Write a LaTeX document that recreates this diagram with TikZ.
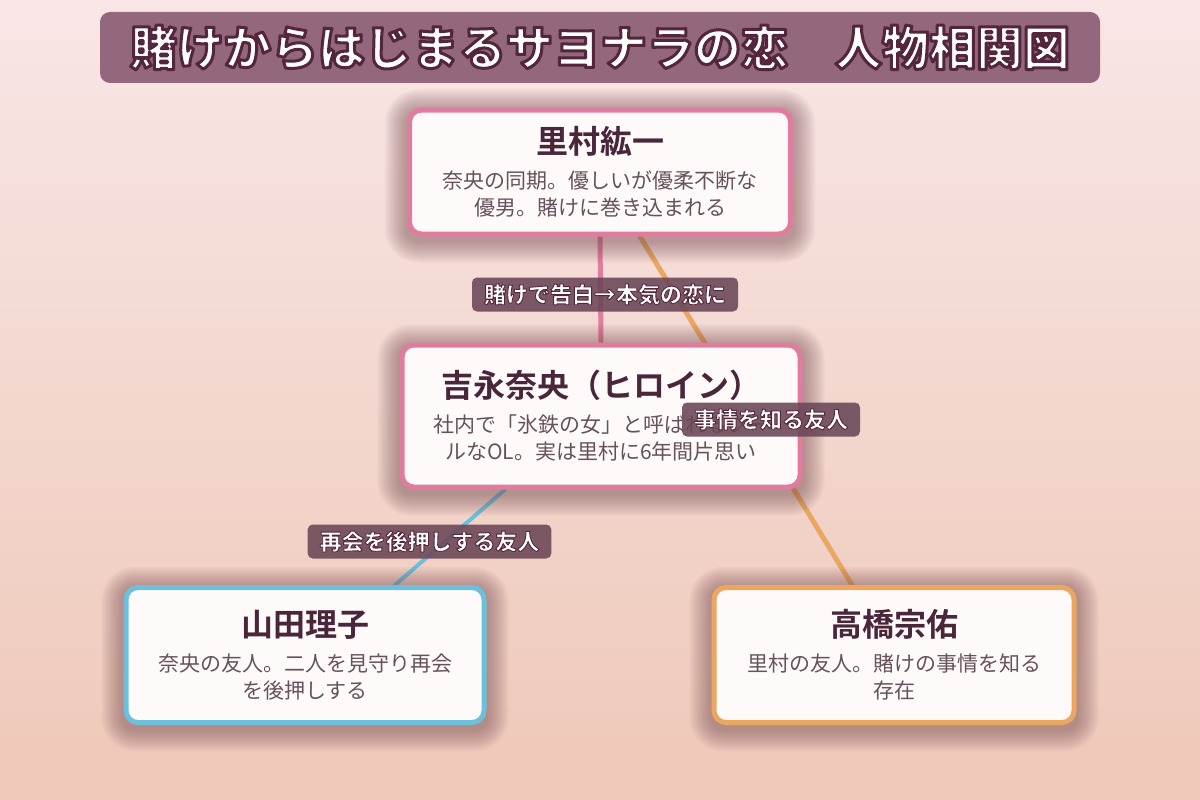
\documentclass[tikz,border=0pt]{standalone}
\usepackage{fontspec}
\setmainfont{Noto Sans CJK JP}[BoldFont={Noto Sans CJK JP Bold}]
\IfFontExistsTF{Noto Sans CJK JP Black}
  {\newfontfamily\heavyfont{Noto Sans CJK JP Black}}
  {\newfontfamily\heavyfont{Noto Sans CJK JP Bold}}

\definecolor{bgtop}{HTML}{F8E6E6}
\definecolor{bgbot}{HTML}{EEC8B8}
\definecolor{titlebg}{HTML}{93677C}
\definecolor{tagbg}{HTML}{6A4656}
\definecolor{boxfill}{HTML}{FFFAFA}
\definecolor{nametext}{HTML}{4A263A}
\definecolor{desctext}{HTML}{66525C}
\definecolor{glowcol}{HTML}{6E4448}
\definecolor{pinkline}{HTML}{E07C9E}
\definecolor{blueline}{HTML}{6CC0DC}
\definecolor{orangeline}{HTML}{EBA762}

\pgfdeclarelayer{bg}
\pgfdeclarelayer{edges}
\pgfdeclarelayer{glow}
\pgfsetlayers{bg,edges,glow,main}

\newcommand{\pname}[1]{{\fontsize{32}{36}\selectfont\bfseries\color{nametext}#1}}
% white letters with a dark rim (fill + stroke)
\newcommand{\rimtext}[2]{\special{pdf:literal direct 0.33 0.15 0.24 RG #1 w 1 j 2 Tr}#2\special{pdf:literal direct 0 Tr}}
\newcommand{\glow}[1]{%
  \foreach \r in {2,4,...,22}
    \fill[glowcol, fill opacity=0.05, rounded corners=12+\r]
      ([shift={(-\r,4-\r)}]#1.north west) rectangle ([shift={(\r,4+\r)}]#1.south east);}

\begin{document}
\begin{tikzpicture}[x=1pt, y=-1pt,
  person/.style={draw=#1, line width=5pt, fill=boxfill, rounded corners=12pt,
    align=center, inner sep=0pt, text=desctext,
    font=\fontsize{21}{27}\selectfont},
  tag/.style={fill=tagbg, fill opacity=0.88, text opacity=1, text=white,
    rounded corners=5pt, minimum height=34pt, inner xsep=12pt,
    font=\heavyfont\fontsize{22}{24}\selectfont},
  link/.style={line width=#1, line cap=round}]
\useasboundingbox (0,0) rectangle (1200,800);

% Background
\begin{pgfonlayer}{bg}
\shade[top color=bgtop, bottom color=bgbot] (0,0) rectangle (1200,800);
\end{pgfonlayer}

% Title
\node[fill=titlebg, rounded corners=10pt, minimum width=1000pt, minimum height=71pt,
  text=white, font=\heavyfont\fontsize{47}{50}\selectfont] (title) at (600,47.5)
  {\rimtext{3}{賭けからはじまるサヨナラの恋　人物相関図}};

% People
\node[person=pinkline, minimum width=381pt, minimum height=124pt] (satomura) at (600,172)
  {\pname{里村紘一}\\[8pt]奈央の同期。優しいが優柔不断な\\優男。賭けに巻き込まれる};
\node[person=pinkline, minimum width=398pt, minimum height=142pt] (yoshinaga) at (601,416)
  {\pname{吉永奈央（ヒロイン）}\\[8pt]社内で「氷鉄の女」と呼ばれるクー\\ルなOL。実は里村に6年間片思い};
\node[person=blueline, minimum width=358pt, minimum height=135pt] (yamada) at (305,655)
  {\pname{山田理子}\\[8pt]奈央の友人。二人を見守り再会\\を後押しする};
\node[person=orangeline, minimum width=360pt, minimum height=135pt] (takahashi) at (894,655)
  {\pname{高橋宗佑}\\[8pt]里村の友人。賭けの事情を知る\\存在};

% Shadows
\begin{pgfonlayer}{glow}
\glow{satomura}
\glow{yoshinaga}
\glow{yamada}
\glow{takahashi}
\end{pgfonlayer}

% Lines
\begin{pgfonlayer}{edges}
\draw[link=5pt, pinkline] (satomura.south) -- (yoshinaga.north);
\draw[link=5pt, orangeline] ([xshift=40pt]satomura.south) -- ([xshift=-42pt]takahashi.north);
\draw[link=4pt, blueline] ([xshift=-96pt]yoshinaga.south) -- ([xshift=90pt]yamada.north);
\end{pgfonlayer}

% Labels
\node[tag] (betlabel) at (605,294.5) {\rimtext{0.9}{賭けで告白→本気の恋に}};
\node[tag] (knowlabel) at (771,419.5) {\rimtext{0.9}{事情を知る友人}};
\node[tag] (pushlabel) at (429.5,541.5) {\rimtext{0.9}{再会を後押しする友人}};

\end{tikzpicture}
\end{document}
